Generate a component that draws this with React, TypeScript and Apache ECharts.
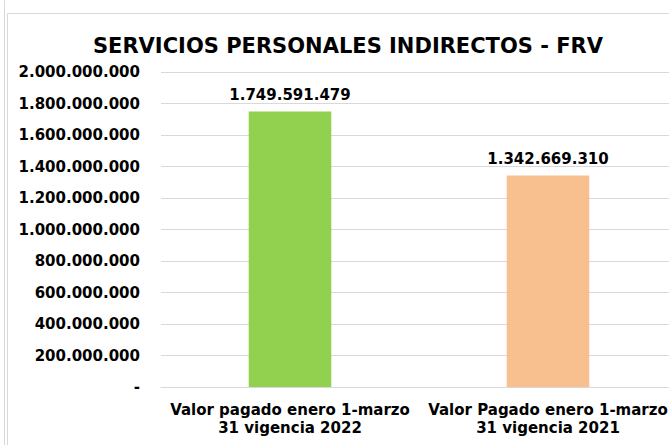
import React, { useEffect, useRef } from "react";
import * as echarts from "echarts";

const titleText = "SERVICIOS PERSONALES INDIRECTOS - FRV";
const categories = [
  "Valor pagado enero 1-marzo\n31 vigencia 2022",
  "Valor Pagado enero 1-marzo\n31 vigencia 2021",
];
const values = [1749591479, 1342669310];
const barColors = ["#92D050", "#F8C08F"];
const yMin = 0;
const yMax = 2000000000;
const yInterval = 200000000;

const FONT = "'DejaVu Sans', Verdana, sans-serif";

function fmt(v: number): string {
  if (v === 0) return "-";
  return Math.round(v)
    .toString()
    .replace(/\B(?=(\d{3})+(?!\d))/g, ".");
}

const W = 690;

export default function App() {
  const ref = useRef<HTMLDivElement>(null);
  useEffect(() => {
    if (!ref.current) return;
    const chart = echarts.init(ref.current, null, { renderer: "svg" });
    chart.setOption({
      animation: false,
      backgroundColor: "#ffffff",
      title: {
        text: titleText,
        left: 343,
        top: 30,
        textAlign: "center",
        textStyle: {
          fontFamily: FONT,
          fontWeight: "bold",
          fontSize: 21,
          color: "#000000",
        },
      },
      graphic: [
        {
          type: "line",
          shape: { x1: 4.5, y1: 0, x2: 4.5, y2: 445 },
          style: { stroke: "#d9d9d9", lineWidth: 1 },
        },
        {
          type: "line",
          shape: { x1: 7.5, y1: 13.5, x2: 7.5, y2: 445 },
          style: { stroke: "#d9d9d9", lineWidth: 1 },
        },
        {
          type: "line",
          shape: { x1: 7.5, y1: 13.5, x2: W, y2: 13.5 },
          style: { stroke: "#d9d9d9", lineWidth: 1 },
        },
      ],
      grid: {
        left: 161,
        right: W - 677,
        top: 72,
        bottom: 58,
        containLabel: false,
      },
      xAxis: {
        type: "category",
        data: categories,
        axisLine: { show: true, lineStyle: { color: "#d9d9d9" } },
        axisTick: { show: false },
        axisLabel: {
          fontFamily: FONT,
          fontWeight: "bold",
          fontSize: 15,
          color: "#000000",
          lineHeight: 18,
          margin: 14,
          interval: 0,
        },
      },
      yAxis: {
        type: "value",
        min: yMin,
        max: yMax,
        interval: yInterval,
        axisLine: { show: false },
        axisTick: { show: false },
        splitLine: { lineStyle: { color: "#d9d9d9", width: 1 } },
        axisLabel: {
          fontFamily: FONT,
          fontWeight: "bold",
          fontSize: 15,
          color: "#000000",
          margin: 21,
          formatter: (v: number) => fmt(v),
        },
      },
      series: [
        {
          type: "bar",
          barWidth: "32%",
          data: values.map((v, i) => ({
            value: v,
            itemStyle: { color: barColors[i] },
          })),
          label: {
            show: true,
            position: "top",
            distance: 9,
            fontFamily: FONT,
            fontWeight: "bold",
            fontSize: 15,
            color: "#000000",
            formatter: (p: any) => fmt(p.value),
          },
        },
      ],
    });
    return () => chart.dispose();
  }, []);
  return (
    <div
      style={{
        position: "absolute",
        left: 0,
        top: 0,
        width: 669,
        height: 445,
        overflow: "hidden",
      }}
    >
      <div ref={ref} style={{ width: W, height: 445 }} />
    </div>
  );
}
